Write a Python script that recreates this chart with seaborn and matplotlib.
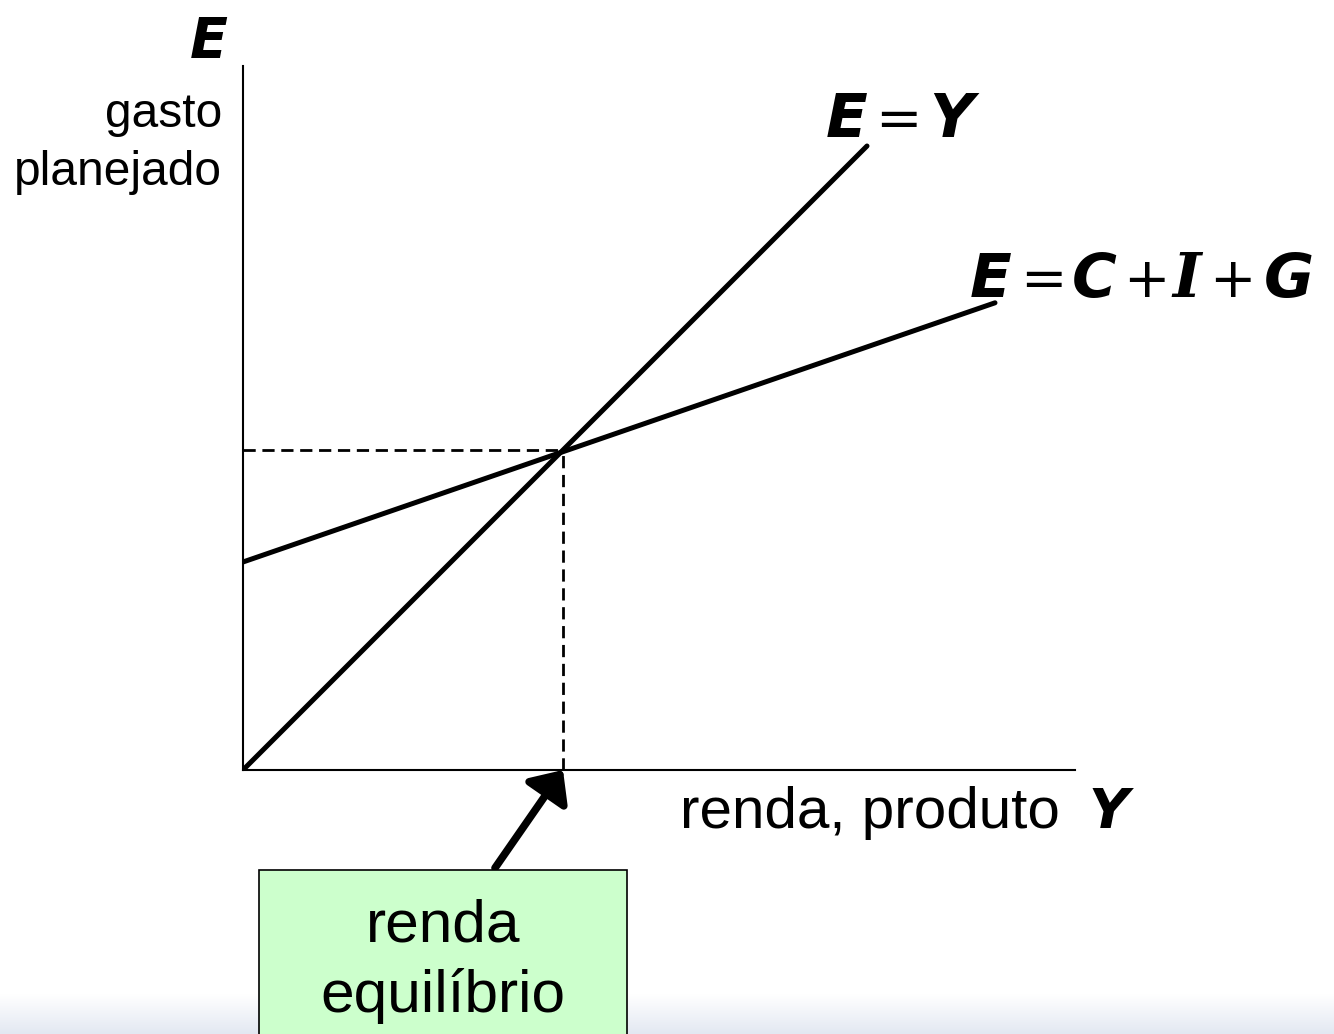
import numpy as np
import pandas as pd
import matplotlib.pyplot as plt
import seaborn as sns
from matplotlib.patches import Rectangle

sns.set_style('white')
plt.rcParams['font.family'] = ['Liberation Sans', 'DejaVu Sans']
plt.rcParams['text.color'] = 'black'

# dados do diagrama keynesiano (cruz keynesiana)
renda_45 = [0, 19.5]
gasto_45 = [0, 19.5]
renda_cig = [0, 23.5]
gasto_cig = [6.5, 14.6]
renda_eq = 10
gasto_eq = 10
x_max = 26
y_max = 22

W, H = 1334, 1034
fig = plt.figure(figsize=(W / 100, H / 100), dpi=100)

# faixa cinza-azulada no rodapé (gradiente)
ax_bg = fig.add_axes([0, 0, 1, 40 / H], zorder=0)
grad = np.linspace(0, 1, 64).reshape(-1, 1)
c0 = np.array([1.0, 1.0, 1.0])
c1 = np.array([0xE3, 0xE8, 0xF2]) / 255
img = c0 + (c1 - c0) * grad[..., None]
ax_bg.imshow(img, aspect='auto', extent=[0, 1, 0, 1], origin='upper')
ax_bg.axis('off')

# eixo principal
ax = fig.add_axes([243 / W, (H - 770) / H, 832 / W, 704 / H], zorder=1)
ax.patch.set_alpha(0)
df45 = pd.DataFrame({'Y': renda_45, 'E': gasto_45})
dfcig = pd.DataFrame({'Y': renda_cig, 'E': gasto_cig})
sns.lineplot(data=df45, x='Y', y='E', color='black', lw=3.6, ax=ax)
sns.lineplot(data=dfcig, x='Y', y='E', color='black', lw=3.6, ax=ax)
ax.plot([0, renda_eq], [gasto_eq, gasto_eq], color='black', lw=2.0, dashes=(4.4, 2.4))
ax.plot([renda_eq, renda_eq], [0, gasto_eq], color='black', lw=2.0, dashes=(4.4, 2.4))
ax.set_xlim(0, x_max)
ax.set_ylim(0, y_max)
ax.set_xticks([])
ax.set_yticks([])
ax.set_xlabel('')
ax.set_ylabel('')
for s in ['top', 'right']:
    ax.spines[s].set_visible(False)
for s in ['left', 'bottom']:
    ax.spines[s].set_linewidth(1.5)
    ax.spines[s].set_color('black')

# seta para a renda de equilíbrio
ax.annotate('', xy=(renda_eq, 0), xycoords='data',
            xytext=(495, H - 868), textcoords='figure pixels',
            arrowprops=dict(arrowstyle='-|>,head_length=0.42,head_width=0.38',
                            mutation_scale=40, lw=5.5, color='black',
                            shrinkA=0, shrinkB=0),
            annotation_clip=False)

# camada de texto em pixels
ov = fig.add_axes([0, 0, 1, 1], zorder=2)
ov.set_xlim(0, W)
ov.set_ylim(H, 0)
ov.axis('off')
ov.patch.set_alpha(0)

bi = dict(family='DejaVu Sans', weight='bold', style='oblique', va='baseline')
rg = dict(family='DejaVu Sans', va='baseline')

ov.text(190, 57, 'E', fontsize=40, **bi)
ov.text(1088, 828, 'Y', fontsize=40, **bi)

ov.text(222, 127, 'gasto', fontsize=34.5, ha='right', va='baseline')
ov.text(222, 185, 'planejado', fontsize=34.5, ha='right', va='baseline')
ov.text(680, 828, 'renda, produto', fontsize=42, ha='left', va='baseline')

# E = Y
ov.text(826, 137, 'E', fontsize=44, **bi)
ov.text(875, 137, '=', fontsize=40, **rg)
ov.text(929, 137, 'Y', fontsize=44, **bi)

# E = C + I + G
ov.text(970, 297, 'E', fontsize=44, **bi)
ov.text(1020, 297, '=', fontsize=40, **rg)
ov.text(1072, 297, 'C', fontsize=44, **bi)
ov.text(1123, 297, '+', fontsize=40, **rg)
ov.text(1172, 297, 'I', fontsize=44, family='DejaVu Serif', weight='bold',
        style='italic', va='baseline')
ov.text(1209, 297, '+', fontsize=40, **rg)
ov.text(1264, 297, 'G', fontsize=44, **bi)

# caixa "renda equilíbrio"
ov.add_patch(Rectangle((259, 870), 368, 200, facecolor='#CCFFCC',
                       edgecolor='black', lw=1.2))
ov.text(443, 941, 'renda', fontsize=43.5, ha='center', va='baseline')
ov.text(443, 1012, 'equilíbrio', fontsize=43.5, ha='center', va='baseline')

plt.savefig('out.png', dpi=100)
plt.close()
